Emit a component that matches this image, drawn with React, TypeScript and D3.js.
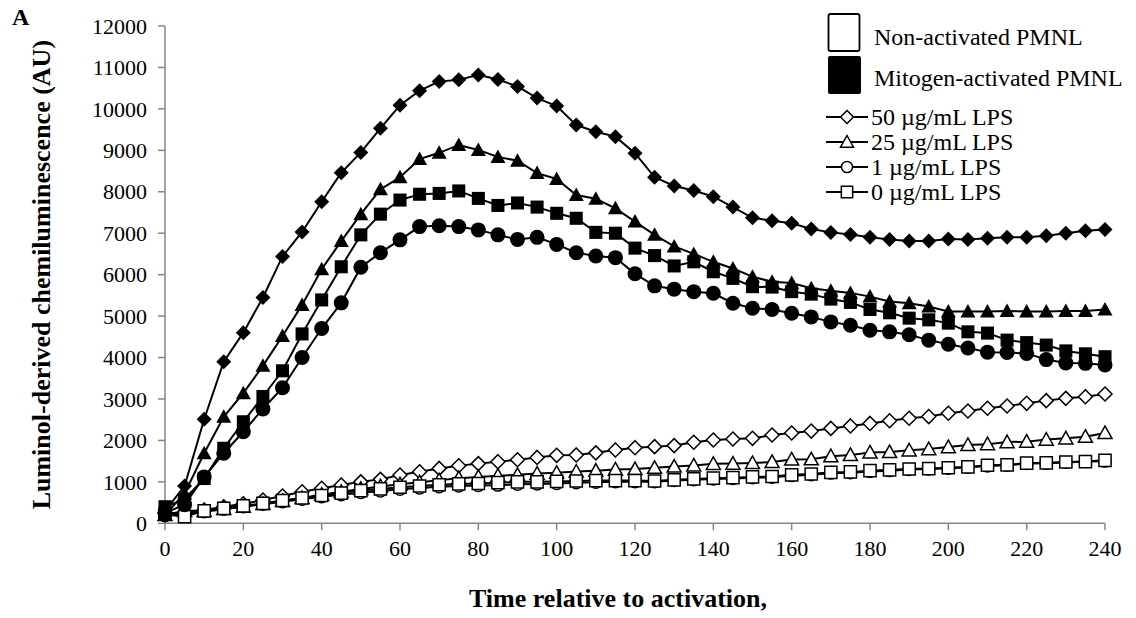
import React from "react";
import * as d3 from "d3";

// Sampling times (minutes after activation)
const times: number[] = d3.range(0, 241, 5);

// Mitogen-activated PMNL (filled markers)
const mitoLPS50: number[] = [300,900,2510,3900,4600,5450,6440,7030,7760,8460,8950,9530,10090,10440,10660,10700,10820,10710,10540,10260,10070,9610,9450,9330,8930,8350,8140,8030,7880,7630,7370,7300,7240,7100,7020,6970,6900,6850,6810,6810,6860,6850,6880,6900,6900,6940,7000,7060,7090];
const mitoLPS25: number[] = [200,720,1690,2570,3140,3800,4520,5270,6130,6810,7460,8060,8350,8790,8940,9130,9010,8840,8750,8450,8310,7920,7830,7600,7280,6960,6680,6500,6310,6150,5950,5830,5800,5670,5610,5560,5470,5350,5310,5230,5110,5110,5110,5120,5110,5110,5120,5120,5160];
const mitoLPS1: number[] = [250,450,1120,1690,2210,2760,3270,4000,4700,5320,6180,6530,6840,7160,7180,7160,7080,6960,6850,6900,6730,6530,6450,6410,6020,5730,5650,5590,5550,5310,5190,5160,5070,4980,4860,4780,4660,4620,4550,4420,4320,4230,4130,4120,4100,3950,3870,3860,3820];
const mitoLPS0: number[] = [400,580,1080,1810,2450,3060,3680,4570,5390,6190,6960,7460,7800,7940,7960,8020,7840,7670,7730,7630,7480,7360,7020,7000,6640,6460,6210,6310,6070,5910,5710,5700,5590,5530,5410,5330,5160,5080,4950,4910,4830,4620,4590,4420,4360,4300,4160,4090,4020];

// Non-activated PMNL (open markers)
const restLPS50: number[] = [250,240,320,400,470,560,660,760,845,925,1000,1060,1165,1245,1325,1390,1440,1487,1535,1590,1640,1650,1700,1770,1825,1850,1875,1955,2010,2035,2050,2130,2180,2225,2290,2350,2410,2475,2535,2575,2655,2710,2775,2830,2895,2960,3015,3055,3120];
const restLPS25: number[] = [200,300,300,350,400,470,540,610,690,760,830,890,940,990,1040,1090,1120,1150,1170,1200,1220,1250,1270,1300,1310,1340,1370,1395,1435,1440,1455,1480,1540,1545,1620,1650,1710,1720,1760,1790,1840,1890,1910,1960,1970,2020,2050,2090,2180];
const restLPS1: number[] = [180,220,280,340,400,460,520,580,640,690,740,780,820,850,880,900,910,920,940,950,960,980,990,1000,1000,1000,1030,1050,1070,1080,1100,1110,1150,1170,1210,1220,1250,1270,1300,1310,1330,1350,1380,1400,1440,1450,1470,1490,1500];
const restLPS0: number[] = [220,160,300,360,420,480,550,610,670,730,790,830,870,900,930,950,960,980,1000,1000,1010,1020,1030,1030,1030,1020,1050,1070,1090,1100,1120,1130,1170,1190,1230,1240,1270,1290,1310,1320,1340,1360,1400,1410,1450,1460,1480,1490,1520];

const xTicks: number[] = d3.range(0, 241, 20);
const yTicks: number[] = d3.range(0, 12001, 1000);

const legendGroups: string[] = ["Non-activated PMNL", "Mitogen-activated PMNL"];
const legendDoses: string[] = ["50 µg/mL LPS", "25 µg/mL LPS", "1 µg/mL LPS", "0 µg/mL LPS"];
const doseShapes: string[] = ["diamond", "triangle", "circle", "square"];

type Shape = "diamond" | "triangle" | "circle" | "square";

const W = 1136;
const H = 618;
const FONT = "'Liberation Serif', 'Times New Roman', Times, serif";
const AXIS = "#868686";

const x = d3.scaleLinear().domain([0, 240]).range([165, 1105]);
const y = d3.scaleLinear().domain([0, 12000]).range([523.3, 26]);

function markerPath(shape: Shape, s: number): string {
  switch (shape) {
    case "diamond":
      return `M0,${-s}L${s},0L0,${s}L${-s},0Z`;
    case "triangle":
      return `M0,${-s}L${s},${s * 0.8}L${-s},${s * 0.8}Z`;
    case "square": {
      const h = s * 0.87;
      return `M${-h},${-h}H${h}V${h}H${-h}Z`;
    }
    default:
      return "";
  }
}

function Marker({ shape, cx, cy, filled, size }: { shape: Shape; cx: number; cy: number; filled: boolean; size: number }) {
  const fill = filled ? "#000" : "#fff";
  const stroke = "#000";
  const sw = filled ? 0 : 1.5;
  if (shape === "circle") {
    return <circle cx={cx} cy={cy} r={size * (filled ? 1 : 0.85)} fill={fill} stroke={stroke} strokeWidth={sw} />;
  }
  return <path d={markerPath(shape, size)} transform={`translate(${cx},${cy})`} fill={fill} stroke={stroke} strokeWidth={sw} />;
}

const series: { values: number[]; shape: Shape; filled: boolean }[] = [
  { values: restLPS50, shape: "diamond", filled: false },
  { values: restLPS25, shape: "triangle", filled: false },
  { values: restLPS1, shape: "circle", filled: false },
  { values: restLPS0, shape: "square", filled: false },
  { values: mitoLPS50, shape: "diamond", filled: true },
  { values: mitoLPS25, shape: "triangle", filled: true },
  { values: mitoLPS0, shape: "square", filled: true },
  { values: mitoLPS1, shape: "circle", filled: true },
];

const line = d3
  .line<number>()
  .x((_, i) => x(times[i]))
  .y((v) => y(v));

export default function App() {
  return (
    <svg
      width={W}
      height={H}
      viewBox={`0 0 ${W} ${H}`}
      style={{ position: "absolute", left: 0, top: 0, background: "#fff" }}
      fontFamily={FONT}
    >
      <rect x={0} y={0} width={W} height={H} fill="#fff" />

      {/* panel letter */}
      <text x={12} y={25} fontSize={24} fontWeight="bold">A</text>

      {/* y axis */}
      <line x1={165} x2={165} y1={y(12000)} y2={y(0)} stroke={AXIS} strokeWidth={1.5} />
      {yTicks.map((t) => (
        <g key={`y${t}`}>
          <line x1={158} x2={165} y1={y(t)} y2={y(t)} stroke={AXIS} strokeWidth={1.5} />
          <text x={147} y={y(t)} dy="0.35em" textAnchor="end" fontSize={22}>{t}</text>
        </g>
      ))}

      {/* x axis */}
      <line x1={x(0)} x2={x(240)} y1={y(0)} y2={y(0)} stroke={AXIS} strokeWidth={1.5} />
      {xTicks.map((t) => (
        <g key={`x${t}`}>
          <line x1={x(t)} x2={x(t)} y1={y(0)} y2={y(0) + 7} stroke={AXIS} strokeWidth={1.5} />
          <text x={x(t)} y={556} textAnchor="middle" fontSize={22}>{t}</text>
        </g>
      ))}

      {/* axis titles */}
      <text x={618} y={607} textAnchor="middle" fontSize={26} fontWeight="bold">Time relative to activation,</text>
      <text
        transform={`translate(50,${(y(0) + y(12000)) / 2}) rotate(-90)`}
        textAnchor="middle"
        fontSize={26}
        fontWeight="bold"
      >
        Luminol-derived chemiluminescence (AU)
      </text>

      {/* data */}
      {series.map((s, si) => (
        <g key={`s${si}`}>
          <path d={line(s.values) || ""} fill="none" stroke="#000" strokeWidth={2} />
          {s.values.map((v, i) => (
            <Marker
              key={i}
              shape={s.shape}
              cx={x(times[i])}
              cy={y(v)}
              filled={s.filled}
              size={s.filled ? 7.5 : 7}
            />
          ))}
        </g>
      ))}

      {/* legend */}
      <rect x={828.5} y={14} width={31} height={37} rx={2} fill="#fff" stroke="#000" strokeWidth={1.8} />
      <rect x={828} y={56} width={33} height={38} rx={2} fill="#000" />
      <text x={874} y={45} fontSize={24}>{legendGroups[0]}</text>
      <text x={874} y={86} fontSize={24}>{legendGroups[1]}</text>
      {legendDoses.map((d, i) => {
        const ly = 117 + i * 25;
        return (
          <g key={d}>
            <line x1={826} x2={868} y1={ly} y2={ly} stroke="#000" strokeWidth={2} />
            <Marker shape={doseShapes[i] as Shape} cx={847} cy={ly} filled={false} size={6.5} />
            <text x={871} y={ly + 7.5} fontSize={24}>{d}</text>
          </g>
        );
      })}
    </svg>
  );
}
